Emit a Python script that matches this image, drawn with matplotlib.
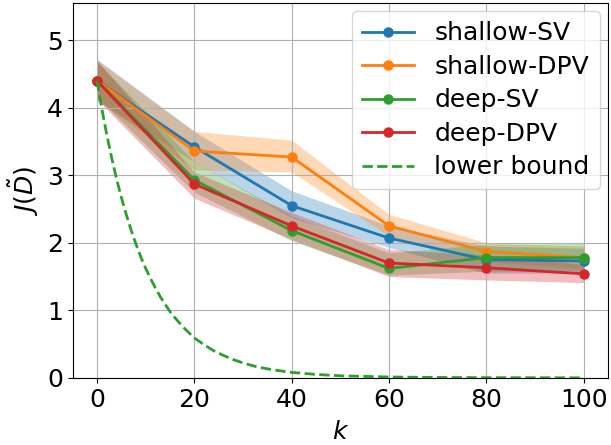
import numpy as np
import matplotlib
matplotlib.use("Agg")
import matplotlib.pyplot as plt

k = [0, 20, 40, 60, 80, 100]

shallow_sv = [4.40, 3.42, 2.55, 2.07, 1.75, 1.73]
shallow_sv_lo = [4.10, 3.20, 2.37, 1.93, 1.55, 1.55]
shallow_sv_hi = [4.72, 3.65, 2.77, 2.25, 1.95, 1.92]

shallow_dpv = [4.40, 3.36, 3.27, 2.25, 1.87, 1.78]
shallow_dpv_lo = [4.12, 3.08, 3.05, 2.10, 1.72, 1.62]
shallow_dpv_hi = [4.70, 3.65, 3.52, 2.42, 2.00, 1.95]

deep_sv = [4.40, 2.93, 2.18, 1.62, 1.78, 1.78]
deep_sv_lo = [4.15, 2.75, 2.03, 1.52, 1.58, 1.58]
deep_sv_hi = [4.68, 3.20, 2.40, 1.85, 1.98, 1.99]

deep_dpv = [4.40, 2.87, 2.25, 1.70, 1.63, 1.54]
deep_dpv_lo = [4.12, 2.66, 2.05, 1.50, 1.45, 1.41]
deep_dpv_hi = [4.70, 3.05, 2.45, 1.90, 1.82, 1.68]

bound_k = [0, 1, 2, 3, 4, 5, 6, 7, 8, 9, 10, 11, 12, 13, 14, 15, 16, 17, 18,
           20, 22, 24, 26, 28, 30, 33, 36, 40, 45, 50, 60, 70, 80, 90, 100]
bound = [4.40, 3.98, 3.60, 3.26, 2.95, 2.67, 2.42, 2.19, 1.98, 1.79, 1.62,
         1.47, 1.33, 1.20, 1.09, 0.98, 0.89, 0.81, 0.73, 0.59, 0.49, 0.40,
         0.33, 0.27, 0.22, 0.16, 0.12, 0.08, 0.05, 0.03, 0.012, 0.005,
         0.002, 0.001, 0.0]

series = [
    ("shallow-SV", shallow_sv, shallow_sv_lo, shallow_sv_hi, "tab:blue"),
    ("shallow-DPV", shallow_dpv, shallow_dpv_lo, shallow_dpv_hi, "tab:orange"),
    ("deep-SV", deep_sv, deep_sv_lo, deep_sv_hi, "tab:green"),
    ("deep-DPV", deep_dpv, deep_dpv_lo, deep_dpv_hi, "tab:red"),
]


def main():
    fig, ax = plt.subplots(figsize=(6.11, 4.45), dpi=100)
    fig.subplots_adjust(left=0.119, right=0.995, top=0.993, bottom=0.151)

    for name, mean, lo, hi, color in series:
        ax.plot(k, mean, marker="o", color=color, linewidth=2, markersize=6.5, label=name)
        ax.fill_between(k, lo, hi, color=color, alpha=0.3, linewidth=0)

    ax.plot(bound_k, bound, "--", color="tab:green", linewidth=2, label="lower bound")

    ax.set_xlim(-5, 105)
    ax.set_ylim(0, 5.55)
    ax.set_xticks([0, 20, 40, 60, 80, 100])
    ax.set_yticks([0, 1, 2, 3, 4, 5])
    ax.tick_params(labelsize=18)
    ax.grid(True)
    ax.set_xlabel(r"$k$", fontsize=18, labelpad=6)
    ax.set_ylabel(r"$J(\tilde{D})$", fontsize=18, labelpad=4)
    ax.legend(loc="upper right", fontsize=18, handlelength=2.1,
              labelspacing=0.38, borderaxespad=0.33)

    fig.savefig("out.png", dpi=100)


if __name__ == "__main__":
    main()
